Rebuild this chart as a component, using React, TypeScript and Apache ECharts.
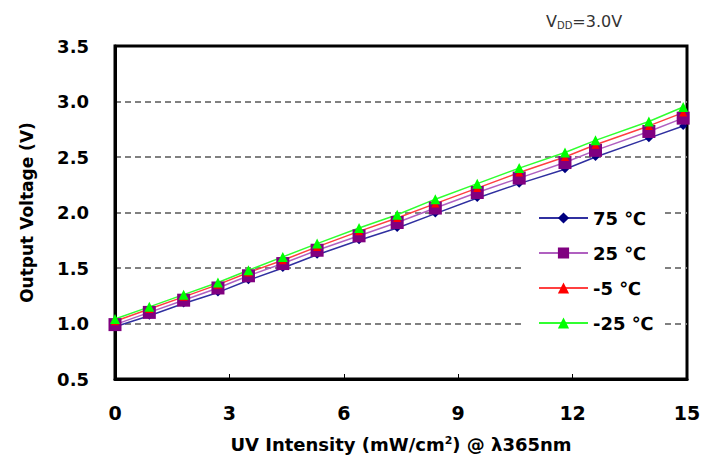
import React, { useEffect, useRef } from "react";
import * as echarts from "echarts";

const intensity = [0, 0.9, 1.8, 2.7, 3.5, 4.4, 5.3, 6.4, 7.4, 8.4, 9.5, 10.6, 11.8, 12.6, 14.0, 14.9];
const v75 = [0.97, 1.07, 1.18, 1.28, 1.39, 1.50, 1.62, 1.75, 1.86, 1.99, 2.13, 2.26, 2.39, 2.50, 2.67, 2.78];
const v25 = [0.99, 1.10, 1.21, 1.32, 1.43, 1.54, 1.66, 1.79, 1.91, 2.04, 2.18, 2.31, 2.45, 2.56, 2.73, 2.85];
const vm5 = [1.02, 1.13, 1.24, 1.35, 1.46, 1.57, 1.69, 1.83, 1.95, 2.08, 2.22, 2.36, 2.50, 2.61, 2.78, 2.90];
const vm25 = [1.04, 1.15, 1.26, 1.37, 1.48, 1.60, 1.72, 1.86, 1.98, 2.12, 2.26, 2.40, 2.54, 2.65, 2.82, 2.95];
const seriesNames = ["75 ℃", "25 ℃", "-5 ℃", "-25 ℃"];
const xTicks = { min: 0, max: 15, interval: 3 };
const yTicks = { min: 0.5, max: 3.5, interval: 0.5 };

const FONT = "DejaVu Sans";

export default function App() {
  const ref = useRef<HTMLDivElement>(null);
  useEffect(() => {
    if (!ref.current) return;
    const chart = echarts.init(ref.current, undefined, { renderer: "svg" });
    const pairs = (ys: number[]) => ys.map((y, i) => [intensity[i], y]);
    const mk = (
      name: string,
      ys: number[],
      symbol: string,
      size: number,
      color: string,
      lineColor: string
    ) => ({
      name,
      type: "line",
      data: pairs(ys),
      symbol,
      symbolSize: size,
      showAllSymbol: true,
      itemStyle: { color },
      lineStyle: { color: lineColor, width: 1.5 },
    });
    chart.setOption({
      animation: false,
      backgroundColor: "#fff",
      grid: {
        left: 115,
        right: 16,
        top: 46,
        bottom: 81,
        show: true,
        borderColor: "#000",
        borderWidth: 3,
        outerBoundsMode: "none",
      },
      legend: {
        orient: "vertical",
        left: 523,
        top: 204,
        padding: [5, 10, 5, 15],
        backgroundColor: "#fff",
        itemWidth: 49,
        itemHeight: 14,
        itemGap: 17,
        textStyle: { fontFamily: FONT, fontWeight: "bold", fontSize: 18, color: "#000" },
        data: seriesNames,
      },
      xAxis: {
        type: "value",
        min: xTicks.min,
        max: xTicks.max,
        interval: xTicks.interval,
        axisLine: { lineStyle: { color: "#000", width: 3 } },
        axisTick: { inside: true, length: 5, lineStyle: { color: "#000", width: 1 } },
        axisLabel: { margin: 24, fontFamily: FONT, fontWeight: "bold", fontSize: 19, color: "#000" },
        splitLine: { show: false },
        name: "UV Intensity (mW/cm{sup|2}) @ λ365nm",
        nameLocation: "middle",
        nameGap: 56,
        nameTextStyle: {
          fontFamily: FONT,
          fontWeight: "bold",
          fontSize: 18,
          color: "#000",
          rich: {
            sup: { fontFamily: FONT, fontWeight: "bold", fontSize: 11, verticalAlign: "top", padding: [0, 0, 8, 0], color: "#000" },
          },
        },
      },
      yAxis: {
        type: "value",
        min: yTicks.min,
        max: yTicks.max,
        interval: yTicks.interval,
        axisLine: { show: true, lineStyle: { color: "#000", width: 3 } },
        axisTick: { show: false },
        axisLabel: {
          margin: 26,
          fontFamily: FONT,
          fontWeight: "bold",
          fontSize: 18,
          color: "#000",
          formatter: (v: number) => v.toFixed(1),
        },
        splitLine: {
          show: true,
          showMinLine: false,
          showMaxLine: false,
          lineStyle: { color: "#808080", width: 2, type: [6, 4] },
        },
        name: "Output Voltage (V)",
        nameLocation: "middle",
        nameGap: 80,
        nameTextStyle: { fontFamily: FONT, fontWeight: "bold", fontSize: 17, color: "#000" },
      },
      graphic: [
        {
          type: "text",
          left: 546,
          top: 13,
          style: {
            text: "{n|V}{s|DD}{n|=3.0V}",
            rich: {
              n: { fontFamily: FONT, fontSize: 16, fill: "#333" },
              s: { fontFamily: FONT, fontSize: 10, fill: "#333", verticalAlign: "bottom", padding: [8, 0, 0, 0] },
            },
          },
        },
      ],
      series: [
        mk(seriesNames[0], v75, "diamond", 8, "#000080", "#3030a0"),
        mk(seriesNames[1], v25, "rect", 13, "#800080", "#b060c0"),
        mk(seriesNames[2], vm5, "triangle", 8, "#ff0000", "#ff4040"),
        mk(seriesNames[3], vm25, "triangle", 10, "#00ff00", "#30ff30"),
      ],
    });
    return () => chart.dispose();
  }, []);
  return (
    <div
      ref={ref}
      style={{ position: "fixed", left: 0, top: 0, width: 703, height: 460 }}
    />
  );
}
